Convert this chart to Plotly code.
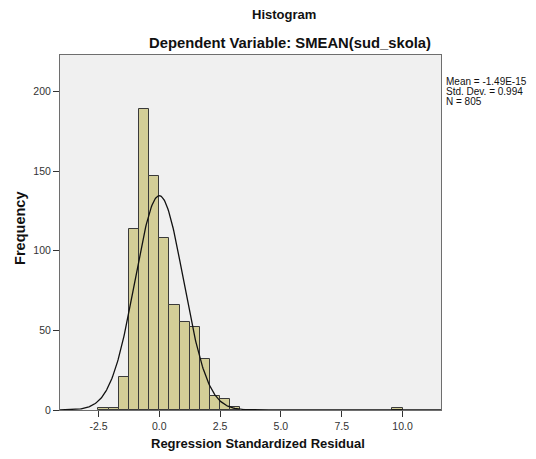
import numpy as np
import plotly.graph_objects as go

# Histogram bins (lower edges) and counts
bin_width = 5 / 12
bin_left = [-2.50, -2.083, -1.667, -1.25, -0.833, -0.417, 0.0, 0.417, 0.833,
            1.25, 1.667, 2.083, 2.50, 2.917, 9.583]
counts = [1, 1, 21, 114, 189, 147, 108, 66, 55, 52, 32, 9, 7, 2, 1]

# Summary statistics shown in the chart
mean_val = -1.49e-15
std_val = 0.994
n_val = 805
stats_lines = ["Mean = -1.49E-15", f"Std. Dev. = {std_val}", f"N = {n_val}"]

x_ticks = [-2.5, 0.0, 2.5, 5.0, 7.5, 10.0]
x_tick_labels = ["-2.5", "0.0", "2.5", "5.0", "7.5", "10.0"]
y_ticks = [0, 50, 100, 150, 200]

centers = [b + bin_width / 2 for b in bin_left]

xs = np.linspace(-4.1, 11.6, 600)
ys = n_val * bin_width * np.exp(-0.5 * ((xs - mean_val) / std_val) ** 2) / (std_val * np.sqrt(2 * np.pi))

fig = go.Figure()
fig.add_trace(go.Bar(
    x=centers, y=counts, width=bin_width,
    marker=dict(color="#D3CE97", line=dict(color="#3a3a3a", width=1)),
    showlegend=False, hoverinfo="x+y",
))
fig.add_trace(go.Scatter(
    x=xs, y=ys, mode="lines", line=dict(color="#111111", width=1.3),
    showlegend=False, hoverinfo="skip",
))

font_family = "Liberation Sans, Arial, sans-serif"

annotations = [
    dict(text="<b>Histogram</b>", x=0.587, y=1.1127,
         xanchor="center", yanchor="middle", font=dict(size=13, color="#111111")),
    dict(text="<b>Dependent Variable: SMEAN(sud_skola)</b>", x=0.603, y=1.0338,
         xanchor="center", yanchor="middle", font=dict(size=14.8, color="#111111")),
    dict(text="<b>Regression Standardized Residual</b>", x=0.519, y=-0.093,
         xanchor="center", yanchor="middle", font=dict(size=13, color="#111111")),
    dict(text="<b>Frequency</b>", x=-0.105, y=0.513, textangle=-90,
         xanchor="center", yanchor="middle", font=dict(size=14.5, color="#111111")),
]
for i, line in enumerate(stats_lines):
    annotations.append(dict(text=line, x=1.0066, y=0.9248 - i * 0.028,
                            xanchor="left", yanchor="middle", align="left",
                            font=dict(size=10, color="#111111")))
for a in annotations:
    a.update(xref="paper", yref="paper", showarrow=False)

fig.update_layout(
    width=528, height=451,
    margin=dict(l=52, r=94.5, t=47, b=49, autoexpand=False),
    paper_bgcolor="white",
    plot_bgcolor="#F0F0F0",
    font=dict(family=font_family, color="#222222"),
    bargap=0,
    xaxis=dict(
        range=[-4.08, 11.58],
        tickmode="array", tickvals=x_ticks, ticktext=x_tick_labels,
        ticks="outside", ticklen=6, tickcolor="#333333", tickwidth=1,
        tickfont=dict(size=10.5, color="#333333"),
        showgrid=False, zeroline=False,
        showline=True, linecolor="#6e6e6e", linewidth=1, mirror=True,
    ),
    yaxis=dict(
        range=[0, 223],
        tickmode="array", tickvals=y_ticks,
        ticks="outside", ticklen=6, tickcolor="#333333", tickwidth=1,
        tickfont=dict(size=10.5, color="#333333"),
        showgrid=False, zeroline=False,
        showline=True, linecolor="#6e6e6e", linewidth=1, mirror=True,
    ),
    annotations=annotations,
)

fig.write_html("out.html")
